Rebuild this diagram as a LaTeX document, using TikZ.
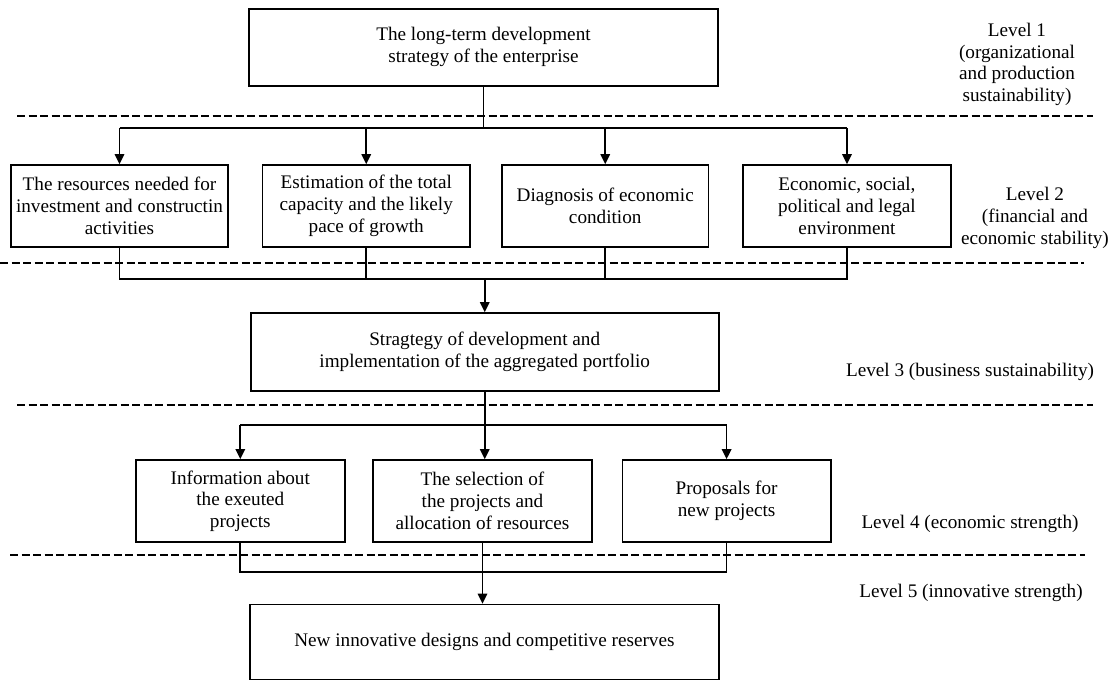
\documentclass[tikz,border=0pt]{standalone}
\usepackage{fontspec}
\setmainfont{Liberation Serif}
\usetikzlibrary{arrows.meta}
\begin{document}
\begin{tikzpicture}[x=1pt,y=-1pt,
  txt/.style={font=\fontsize{19.2}{21.7}\selectfont, align=center, inner sep=0pt},
  box/.style={txt, draw, line width=1.8pt},
  conn/.style={line width=1.7pt},
  arr/.style={line width=1.7pt, -{Triangle[length=10pt,width=9.5pt]}},
  sep/.style={line width=2pt, dash pattern=on 8pt off 3.5pt}]
\useasboundingbox (0,0) rectangle (1112,681);
% boxes
\node[box, minimum width=469pt, minimum height=77pt] (top) at (483.5,47.5) {\raisebox{3pt}{\begin{tabular}{@{}c@{}}The long-term development\\strategy of the enterprise\end{tabular}}};
\node[box, minimum width=217pt, minimum height=82pt] (A) at (119.5,206) {The resources needed for\\investment and constructin\\activities};
\node[box, minimum width=207.5pt, minimum height=82pt] (B) at (366.25,206) {Estimation of the total\\capacity and the likely\\pace of growth};
\node[box, minimum width=206.5pt, minimum height=82pt] (C) at (605.25,206) {Diagnosis of economic\\condition};
\node[box, minimum width=208pt, minimum height=82pt] (D) at (847,206) {Economic, social,\\political and legal\\environment};
\node[box, minimum width=468pt, minimum height=78pt] (L3) at (484.75,352) {Stragtegy of development and\\implementation of the aggregated portfolio};
\node[box, minimum width=208.6pt, minimum height=82pt] (E) at (240.3,501) {Information about\\the exeuted\\projects};
\node[box, minimum width=219pt, minimum height=82pt] (F) at (482.5,501) {The selection of\\the projects and\\allocation of resources};
\node[box, minimum width=208.3pt, minimum height=82pt] (G) at (726.6,501) {Proposals for\\new projects};
\node[box, minimum width=468.8pt, minimum height=75pt] (L5) at (484.4,642) {New innovative designs and competitive reserves};
% level labels
\node[txt] (lv1) at (1017,64.5) {Level 1\\(organizational\\and production\\sustainability)};
\node[txt] (lv2) at (1035,218) {Level 2\\(financial and\\economic stability)};
\node[txt] (lv3) at (970,371.7) {Level 3 (business sustainability)};
\node[txt] (lv4) at (970,524) {Level 4 (economic strength)};
\node[txt] (lv5) at (971,593) {Level 5 (innovative strength)};
% separators
\draw[sep] (17,116) -- (1093,116);
\draw[sep] (0,263) -- (1084,263);
\draw[sep] (17,405) -- (1093,405);
\draw[sep] (10,555) -- (1085,555);
% branch coordinates
\coordinate (br1) at (0,128);
\coordinate (br2) at (0,279);
\coordinate (br3) at (0,425);
\coordinate (br4) at (0,572);
% level 1 -> level 2
\draw[conn] (top.south) -- (top.south |- br1);
\draw[conn] (A.north |- br1) -- (D.north |- br1);
\draw[arr] (A.north |- br1) -- (A.north);
\draw[arr] (B.north |- br1) -- (B.north);
\draw[arr] (C.north |- br1) -- (C.north);
\draw[arr] (D.north |- br1) -- (D.north);
% level 2 -> level 3
\draw[conn] (A.south) -- (A.south |- br2) -- (D.south |- br2) -- (D.south);
\draw[conn] (B.south) -- (B.south |- br2);
\draw[conn] (C.south) -- (C.south |- br2);
\draw[arr] (L3.north |- br2) -- (L3.north);
% level 3 -> level 4
\draw[arr] (L3.south) -- (L3.south |- F.north);
\draw[conn] (E.north |- br3) -- (G.north |- br3);
\draw[arr] (E.north |- br3) -- (E.north);
\draw[arr] (G.north |- br3) -- (G.north);
% level 4 -> level 5
\draw[conn] (E.south) -- (E.south |- br4) -- (G.south |- br4) -- (G.south);
\draw[arr] (F.south) -- (F.south |- L5.north);
\end{tikzpicture}
\end{document}
